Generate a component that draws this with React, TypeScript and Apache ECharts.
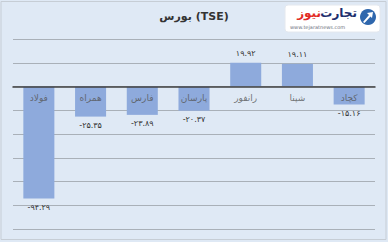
import React, { useEffect, useRef } from "react";
import * as echarts from "echarts";

// Daily change of selected symbols on the Tehran Stock Exchange
const categories = ["فولاد", "همراه", "فارس", "پارسان", "رانفور", "شپنا", "کچاد"];
const values = [-94.29, -25.35, -23.89, -20.37, 19.92, 19.11, -15.16];
const titleText = "بورس (TSE)";

const faDigits = "۰۱۲۳۴۵۶۷۸۹";
const toFa = (v: number) =>
  v.toFixed(2).replace(/[0-9]/g, (d) => faDigits[Number(d)]);

const FONT = "DejaVu Sans";

export default function App() {
  const ref = useRef<HTMLDivElement>(null);

  useEffect(() => {
    document.body.style.margin = "0";
    const chart = echarts.init(ref.current!, undefined, { renderer: "svg" });
    chart.setOption({
      animation: false,
      backgroundColor: "#dfe9f5",
      grid: { left: 13, right: 13, top: 39, bottom: 13, containLabel: false },
      xAxis: {
        type: "category",
        data: categories,
        axisLine: { onZero: true, lineStyle: { color: "#404040", width: 1.5 } },
        axisTick: { show: false },
        axisLabel: { show: false },
        z: 5,
      },
      yAxis: {
        type: "value",
        min: -120,
        max: 40,
        interval: 20,
        axisLine: { show: false },
        axisTick: { show: false },
        axisLabel: { show: false },
        splitLine: { lineStyle: { color: "#a9b0b8", width: 1 } },
      },
      series: [
        {
          type: "bar",
          barWidth: "60%",
          z: 1,
          itemStyle: { color: "#8eaadc" },
          data: values.map((v) => ({
            value: v,
            label: {
              show: true,
              position: v >= 0 ? "top" : "bottom",
              distance: 5,
              fontSize: 8,
              color: "#333",
              fontFamily: FONT,
              formatter: () => toFa(v),
            },
          })),
        },
        {
          // category names sitting just under the zero line
          type: "scatter",
          symbolSize: 0,
          z: 3,
          silent: true,
          data: categories.map((c) => [c, 0]),
          label: {
            show: true,
            position: "bottom",
            distance: 7,
            fontSize: 9,
            color: "#555",
            fontFamily: FONT,
            formatter: (p: any) => p.name || p.value[0],
          },
        },
      ],
      graphic: [
        {
          type: "rect",
          shape: { x: 1, y: 1.5, width: 385, height: 238 },
          style: { fill: "none", stroke: "#c6cdd5", lineWidth: 1 },
          silent: true,
        },
        {
          type: "text",
          left: "center",
          top: 11,
          style: {
            text: titleText,
            fontSize: 11,
            fontWeight: "bold",
            fill: "#333",
            fontFamily: FONT,
          },
        },
        // publisher badge
        {
          type: "rect",
          shape: { x: 285, y: 5, width: 95, height: 27, r: 3 },
          style: { fill: "#ffffff", stroke: "#e4e8ee", lineWidth: 1 },
        },
        {
          type: "circle",
          shape: { cx: 368, cy: 17, r: 8 },
          style: { fill: "#2f67ad" },
        },
        {
          type: "polygon",
          shape: {
            points: [
              [363, 22],
              [369, 15],
              [367, 13],
              [373, 12],
              [372, 18],
              [370.5, 16.5],
              [364.5, 23],
            ],
          },
          style: { fill: "#ffffff" },
        },
        {
          type: "text",
          x: 357,
          y: 7,
          style: {
            text: "تجارت",
            fontSize: 12,
            fontWeight: "bold",
            fill: "#1e2f6e",
            fontFamily: FONT,
            align: "right",
          },
        },
        {
          type: "text",
          x: 321,
          y: 7,
          style: {
            text: "نیوز",
            fontSize: 12,
            fontWeight: "bold",
            fill: "#e22a25",
            fontFamily: FONT,
            align: "right",
          },
        },
        {
          type: "text",
          x: 290,
          y: 24,
          style: {
            text: "www.tejaratnews.com",
            fontSize: 5,
            fill: "#6b7280",
            fontFamily: FONT,
          },
        },
      ],
    });
    return () => chart.dispose();
  }, []);

  return (
    <div
      ref={ref}
      style={{ position: "fixed", left: 0, top: 0, width: 388, height: 242 }}
    />
  );
}
